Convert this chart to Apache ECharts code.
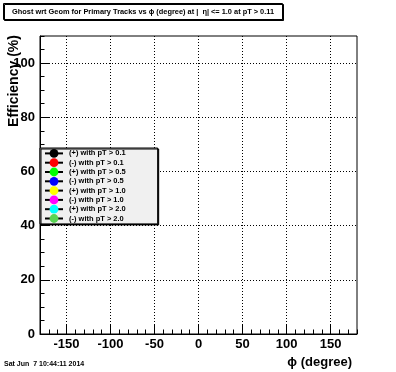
<!DOCTYPE html>
<html>
<head>
<meta charset="utf-8">
<script src="https://cdn.jsdelivr.net/npm/echarts@6/dist/echarts.min.js"></script>
<style>
html,body{margin:0;padding:0;background:#fff;}
#chart{width:396px;height:372px;}
</style>
</head>
<body>
<div id="chart"></div>
<script>
// ---- data ----
const chartTitle = "Ghost wrt Geom for Primary Tracks vs \u03d5 (degree) at |  \u03b7| <= 1.0 at pT > 0.11";
const xTitle = "\u03d5 (degree)";
const yTitle = "Efficiency (%)";
const dateText = "Sat Jun  7 10:44:11 2014";
const seriesNames = [
  "(+) with pT > 0.1", "(-) with pT > 0.1",
  "(+) with pT > 0.5", "(-) with pT > 0.5",
  "(+) with pT > 1.0", "(-) with pT > 1.0",
  "(+) with pT > 2.0", "(-) with pT > 2.0"
];
// all histograms are empty in the reference
const seriesValues = [[], [], [], [], [], [], [], []];
const xTicks = [-150, -100, -50, 0, 50, 100, 150];
const yTicks = [0, 20, 40, 60, 80, 100];
const xRange = [-180, 180];
const yRange = [0, 110];

// ---- styles ----
const markerColors = ["#000000", "#ff0000", "#00ff00", "#0000ff", "#ffff00", "#ff00ff", "#00ffff", "#59d454"];
const FONT = "'Liberation Sans', Arial, Helvetica, sans-serif";

const chart = echarts.init(document.getElementById('chart'), null, {renderer: 'canvas'});

const series = seriesNames.map((n, i) => ({
  name: n,
  type: 'line',
  xAxisIndex: 0,
  yAxisIndex: 0,
  data: seriesValues[i],
  symbol: 'circle',
  symbolSize: 9,
  itemStyle: {color: markerColors[i]},
  lineStyle: {color: '#000', width: 1}
}));

const dotted = {color: '#000', width: 1, type: [1, 2]};

chart.setOption({
  animation: false,
  backgroundColor: '#fff',
  textStyle: {fontFamily: FONT},
  title: [{
    text: chartTitle,
    left: 3, top: 3,
    padding: [5, 9, 5, 9],
    borderColor: '#000', borderWidth: 1,
    backgroundColor: '#fff',
    shadowColor: '#000', shadowOffsetX: 1, shadowOffsetY: 1, shadowBlur: 0,
    textStyle: {fontFamily: FONT, fontSize: 7.4, fontWeight: 'bold', color: '#000'}
  }],
  grid: {
    left: 40, right: 39, top: 36, bottom: 38,
    show: true, borderColor: '#000', borderWidth: 1, backgroundColor: 'transparent'
  },
  legend: {
    orient: 'vertical',
    left: 40, top: 148,
    padding: [1, 32, 1, 4],
    itemWidth: 18, itemHeight: 11, itemGap: 0.5,
    backgroundColor: '#f0f0f0', borderColor: '#000', borderWidth: 1,
    shadowColor: '#000', shadowOffsetX: 1, shadowOffsetY: 1, shadowBlur: 0,
    textStyle: {fontFamily: FONT, fontSize: 7.5, fontWeight: 'bold', color: '#000', padding: [0, 0, 0, 1]},
    data: seriesNames
  },
  xAxis: [{
    type: 'value', min: xRange[0], max: xRange[1], position: 'bottom',
    axisLine: {show: true, onZero: false, lineStyle: {color: '#000', width: 1}},
    axisTick: {show: true, inside: true, length: 9, customValues: xTicks, lineStyle: {color: '#000'}},
    axisLabel: {show: true, customValues: xTicks, margin: 4, color: '#000', fontFamily: FONT, fontSize: 13, fontWeight: 'bold'},
    splitLine: {show: true, lineStyle: dotted}
  }, {
    type: 'value', min: xRange[0], max: xRange[1], interval: 10, position: 'bottom', offset: 0,
    axisLine: {show: false, onZero: false},
    axisTick: {show: true, inside: true, length: 4.5, lineStyle: {color: '#000'}},
    axisLabel: {show: false},
    splitLine: {show: false}
  }],
  yAxis: [{
    type: 'value', min: yRange[0], max: yRange[1], position: 'left',
    axisLine: {show: true, onZero: false, lineStyle: {color: '#000', width: 1}},
    axisTick: {show: true, inside: true, length: 9, customValues: yTicks, lineStyle: {color: '#000'}},
    axisLabel: {show: true, customValues: yTicks, margin: 5, color: '#000', fontFamily: FONT, fontSize: 13, fontWeight: 'bold'},
    splitLine: {show: true, lineStyle: dotted}
  }, {
    type: 'value', min: yRange[0], max: yRange[1], interval: 5, position: 'left', offset: 0,
    axisLine: {show: false, onZero: false},
    axisTick: {show: true, inside: true, length: 4.5, lineStyle: {color: '#000'}},
    axisLabel: {show: false},
    splitLine: {show: false}
  }],
  graphic: [{
    type: 'text', x: 352, y: 362,
    style: {text: xTitle, align: 'right', verticalAlign: 'middle', fill: '#000', font: "bold 13px " + FONT}
  }, {
    type: 'text', x: 14, y: 81, rotation: Math.PI / 2,
    style: {text: yTitle, align: 'center', verticalAlign: 'middle', fill: '#000', font: "bold 14px " + FONT}
  }, {
    type: 'text', x: 4, y: 364,
    style: {text: dateText, align: 'left', verticalAlign: 'middle', fill: '#000', font: "bold 7px " + FONT}
  }],
  series: series
});
</script>
</body>
</html>
